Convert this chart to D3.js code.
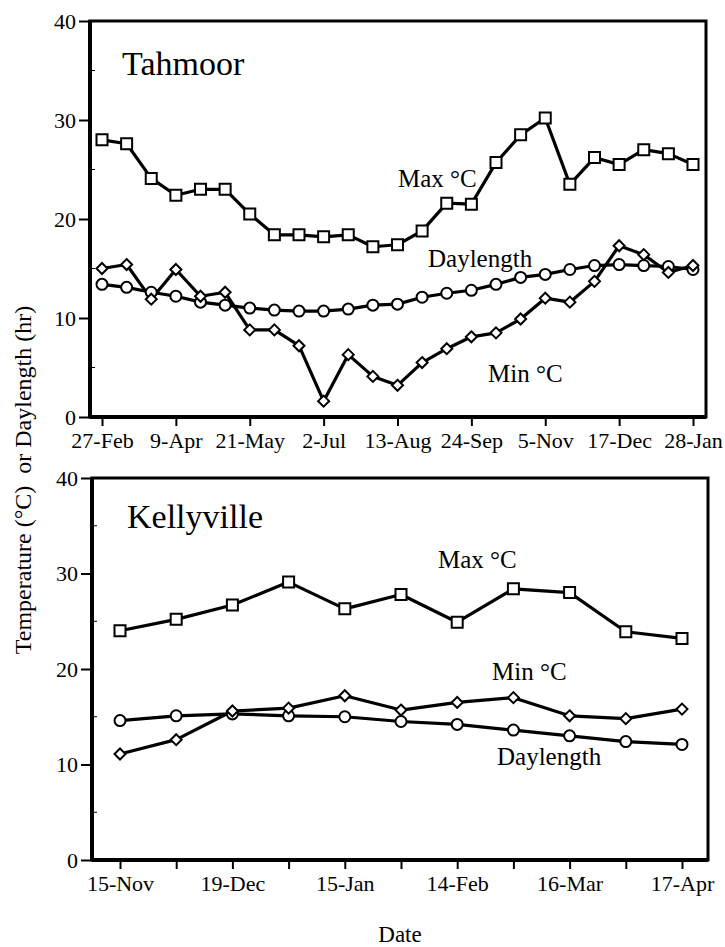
<!DOCTYPE html>
<html>
<head>
<meta charset="utf-8">
<script src="https://cdn.jsdelivr.net/npm/d3@7"></script>
<style>
  body { margin: 0; background: #fff; }
  text { font-family: "Liberation Serif", "Times New Roman", serif; fill: #000; }
</style>
</head>
<body>
<svg id="chart" width="725" height="947"></svg>
<script>
'use strict';

// Tahmoor: one reading every 14 days, labels every 3rd point
const tahmoorLabels = ['27-Feb', '9-Apr', '21-May', '2-Jul', '13-Aug', '24-Sep', '5-Nov', '17-Dec', '28-Jan'];
const tahmoorMax = [28.0, 27.6, 24.1, 22.4, 23.0, 23.0, 20.5, 18.4, 18.4, 18.2, 18.4, 17.2, 17.4,
                    18.8, 21.6, 21.5, 25.7, 28.5, 30.2, 23.5, 26.2, 25.5, 27.0, 26.6, 25.5];
const tahmoorMin = [15.0, 15.4, 11.9, 14.9, 12.2, 12.6, 8.8, 8.8, 7.2, 1.6, 6.3, 4.1, 3.2,
                    5.5, 6.9, 8.1, 8.5, 9.9, 12.0, 11.6, 13.7, 17.3, 16.4, 14.6, 15.3];
const tahmoorDay = [13.4, 13.1, 12.6, 12.2, 11.6, 11.3, 11.0, 10.8, 10.7, 10.7, 10.9, 11.3, 11.4,
                    12.1, 12.5, 12.8, 13.4, 14.1, 14.4, 14.9, 15.3, 15.4, 15.3, 15.2, 14.9];

// Kellyville
const kellyLabels = ['15-Nov', '', '19-Dec', '', '15-Jan', '', '14-Feb', '', '16-Mar', '', '17-Apr'];
const kellyMax = [24.0, 25.2, 26.7, 29.1, 26.3, 27.8, 24.9, 28.4, 28.0, 23.9, 23.2];
const kellyMin = [11.1, 12.6, 15.6, 15.9, 17.2, 15.7, 16.5, 17.0, 15.1, 14.8, 15.8];
const kellyDay = [14.6, 15.1, 15.3, 15.1, 15.0, 14.5, 14.2, 13.6, 13.0, 12.4, 12.1];

const yTicks = [0, 10, 20, 30, 40];

const svg = d3.select('#chart');

/**
 * Draws one framed panel with its three series and labels.
 */
function panel(opts) {
  const n = opts.max.length;
  const x = d3.scaleLinear().domain([0, n - 1]).range([opts.x0, opts.x1]);
  const y = d3.scaleLinear().domain([0, 40]).range([opts.bottom, opts.top]);
  const g = svg.append('g');

  // x axis ticks (outward)
  const xAxis = d3.axisBottom(x)
      .tickValues(opts.tickIdx)
      .tickSize(9)
      .tickPadding(6)
      .tickFormat((d, i) => opts.tickText[i]);
  const xg = g.append('g')
      .attr('transform', `translate(0,${opts.bottom})`)
      .call(xAxis);
  xg.select('.domain').remove();
  xg.selectAll('line').attr('stroke', '#000').attr('stroke-width', 2);
  xg.selectAll('text').attr('font-size', 22).attr('font-family', '"Liberation Serif", serif');

  // y axis
  const yg = g.append('g')
      .attr('transform', `translate(${opts.left},0)`)
      .call(d3.axisLeft(y).tickValues(yTicks).tickSize(11).tickPadding(3));
  yg.select('.domain').remove();
  yg.selectAll('line').attr('stroke', '#000').attr('stroke-width', 2);
  yg.selectAll('text').attr('font-size', 22).attr('font-family', '"Liberation Serif", serif');

  // faint inner minor ticks on the left
  g.selectAll('.minor')
    .data([5, 15, 25, 35])
    .enter().append('line')
      .attr('x1', opts.left).attr('x2', opts.left + 5)
      .attr('y1', d => y(d)).attr('y2', d => y(d))
      .attr('stroke', '#000').attr('stroke-width', 1);

  // frame
  g.append('rect')
      .attr('x', opts.left).attr('y', opts.top)
      .attr('width', opts.right - opts.left).attr('height', opts.bottom - opts.top)
      .attr('fill', 'none').attr('stroke', '#000').attr('stroke-width', 3);
  g.append('line')
      .attr('x1', opts.left).attr('x2', opts.left)
      .attr('y1', opts.top - 1).attr('y2', opts.bottom + 1)
      .attr('stroke', '#000').attr('stroke-width', 4);
  g.append('line')
      .attr('x1', opts.left).attr('x2', opts.right)
      .attr('y1', opts.bottom).attr('y2', opts.bottom)
      .attr('stroke', '#000').attr('stroke-width', 4);

  const line = d3.line().x((d, i) => x(i)).y(d => y(d));
  const series = [
    { data: opts.day, shape: 'circle' },
    { data: opts.min, shape: 'diamond' },
    { data: opts.max, shape: 'square' }
  ];

  series.forEach(s => {
    g.append('path')
        .datum(s.data)
        .attr('d', line)
        .attr('fill', 'none')
        .attr('stroke', '#000')
        .attr('stroke-width', 3.2)
        .attr('stroke-linejoin', 'round');
  });

  series.forEach(s => {
    const pts = g.append('g').selectAll('path')
        .data(s.data)
        .enter().append('path')
        .attr('transform', (d, i) => `translate(${x(i)},${y(d)})`)
        .attr('fill', '#fff')
        .attr('stroke', '#000')
        .attr('stroke-width', 2);
    if (s.shape === 'square') pts.attr('d', 'M-5.5,-5.5H5.5V5.5H-5.5Z');
    if (s.shape === 'circle') pts.attr('d', d3.symbol(d3.symbolCircle, 95)());
    if (s.shape === 'diamond') pts.attr('d', 'M0,-5.5L5.5,0L0,5.5L-5.5,0Z');
  });

  // labels
  opts.labels.forEach(l => {
    g.append('text')
        .attr('x', l.x).attr('y', l.y)
        .attr('font-size', l.size)
        .text(l.text);
  });
}

panel({
  left: 90, right: 706, top: 21, bottom: 417,
  x0: 102, x1: 693,
  max: tahmoorMax, min: tahmoorMin, day: tahmoorDay,
  tickIdx: d3.range(0, 25, 3),
  tickText: tahmoorLabels,
  labels: [
    { text: 'Tahmoor', x: 122, y: 75, size: 34 },
    { text: 'Max °C', x: 398, y: 187, size: 25 },
    { text: 'Daylength', x: 428, y: 267, size: 25 },
    { text: 'Min °C', x: 488, y: 382, size: 25 }
  ]
});

panel({
  left: 92, right: 708, top: 478, bottom: 860,
  x0: 120, x1: 682,
  max: kellyMax, min: kellyMin, day: kellyDay,
  tickIdx: d3.range(0, 11),
  tickText: kellyLabels,
  labels: [
    { text: 'Kellyville', x: 127, y: 528, size: 34 },
    { text: 'Max °C', x: 438, y: 568, size: 25 },
    { text: 'Min °C', x: 492, y: 680, size: 25 },
    { text: 'Daylength', x: 497, y: 765, size: 25 }
  ]
});

// shared axis titles
svg.append('text')
    .attr('transform', 'translate(31,480) rotate(-90)')
    .attr('text-anchor', 'middle')
    .attr('font-size', 24)
    .attr('xml:space', 'preserve')
    .text('Temperature (°C)  or Daylength (hr)');

svg.append('text')
    .attr('x', 400).attr('y', 942)
    .attr('text-anchor', 'middle')
    .attr('font-size', 23)
    .text('Date');
</script>
</body>
</html>
